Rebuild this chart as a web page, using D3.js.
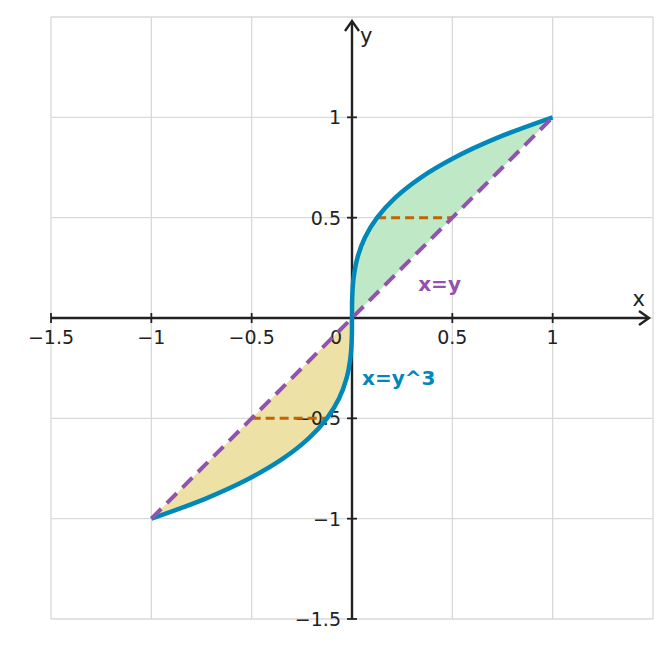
<!DOCTYPE html>
<html><head><meta charset="utf-8">
<script src="https://cdn.jsdelivr.net/npm/d3@7"></script>
<style>body{margin:0;background:#fff}text{font-family:"DejaVu Sans",sans-serif}</style>
</head><body><svg id="c" width="671" height="648"></svg>
<script>
// curve x = y^3, values listed per sample
const curveY = [-1,-0.9,-0.8,-0.7,-0.6,-0.5,-0.4,-0.3,-0.2,-0.1,0,0.1,0.2,0.3,0.4,0.5,0.6,0.7,0.8,0.9,1];
const curveX = [-1,-0.729,-0.512,-0.343,-0.216,-0.125,-0.064,-0.027,-0.008,-0.001,0,0.001,0.008,0.027,0.064,0.125,0.216,0.343,0.512,0.729,1];
const lineX = [-1,1];
const lineY = [-1,1];
const cutY = [0.5,-0.5];
const cutFrom = [0.125,-0.5];
const cutTo = [0.5,-0.125];
const ticks = [-1.5,-1,-0.5,0.5,1];
const gridTicks = [-1.5,-1,-0.5,0,0.5,1,1.5];

const svg = d3.select("#c");
const x = d3.scaleLinear().domain([-1.5,1.5]).range([51,653]);
const y = d3.scaleLinear().domain([-1.5,1.5]).range([619,17]);
const fmt = v => String(v).replace("-","\u2212");

// grid
svg.selectAll(".gx").data(gridTicks).enter().append("line")
  .attr("x1",d=>x(d)).attr("x2",d=>x(d)).attr("y1",y(1.5)).attr("y2",y(-1.5))
  .attr("stroke","#d9d9d9").attr("stroke-width",1.3);
svg.selectAll(".gy").data(gridTicks).enter().append("line")
  .attr("y1",d=>y(d)).attr("y2",d=>y(d)).attr("x1",x(-1.5)).attr("x2",x(1.5))
  .attr("stroke","#d9d9d9").attr("stroke-width",1.3);

const pts = curveY.map((v,i)=>[curveX[i],v]);
const pos = pts.filter(p=>p[1]>=0), neg = pts.filter(p=>p[1]<=0);
const smooth = d3.line().x(d=>x(d[0])).y(d=>y(d[1])).curve(d3.curveCatmullRom.alpha(0.5));
const straight = d3.line().x(d=>x(d[0])).y(d=>y(d[1]));
svg.append("path").attr("d",smooth(pos)+`L${x(0)},${y(0)}Z`).attr("fill","#bfe8c6");
svg.append("path").attr("d",smooth(neg)+`L${x(lineX[0])},${y(lineY[0])}Z`).attr("fill","#eee1a6");

// axes
svg.append("line").attr("x1",x(-1.5)).attr("x2",x(1.5)-6).attr("y1",y(0)).attr("y2",y(0)).attr("stroke","#222").attr("stroke-width",2.4);
svg.append("line").attr("y1",y(-1.5)).attr("y2",y(1.5)+6).attr("x1",x(0)).attr("x2",x(0)).attr("stroke","#222").attr("stroke-width",2.4);
svg.append("path").attr("d",`M${x(1.5)-14},${y(0)-7}L${x(1.5)-4},${y(0)}L${x(1.5)-14},${y(0)+7}`).attr("fill","none").attr("stroke","#222").attr("stroke-width",2.4);
svg.append("path").attr("d",`M${x(0)-7},${y(1.5)+14}L${x(0)},${y(1.5)+4}L${x(0)+7},${y(1.5)+14}`).attr("fill","none").attr("stroke","#222").attr("stroke-width",2.4);

svg.selectAll(".tx").data(ticks).enter().append("line")
  .attr("x1",d=>x(d)).attr("x2",d=>x(d)).attr("y1",y(0)-5).attr("y2",y(0)+5).attr("stroke","#222").attr("stroke-width",1.8);
svg.selectAll(".ty").data(ticks).enter().append("line")
  .attr("y1",d=>y(d)).attr("y2",d=>y(d)).attr("x1",x(0)-5).attr("x2",x(0)+5).attr("stroke","#222").attr("stroke-width",1.8);
svg.selectAll(".lx").data(ticks).enter().append("text")
  .attr("x",d=>x(d)).attr("y",y(0)+26).attr("text-anchor","middle").attr("font-size",19).attr("fill","#222").text(fmt);
svg.selectAll(".ly").data(ticks).enter().append("text")
  .attr("x",x(0)-11).attr("y",d=>y(d)+7).attr("text-anchor","end").attr("font-size",19).attr("fill","#222").text(fmt);
svg.append("text").attr("x",x(0)-10).attr("y",y(0)+26).attr("text-anchor","end").attr("font-size",19).attr("fill","#222").text("0");
svg.append("text").attr("x",x(1.5)-8).attr("y",y(0)-12).attr("text-anchor","end").attr("font-size",21).attr("fill","#222").text("x");
svg.append("text").attr("x",x(0)+8).attr("y",y(1.5)+26).attr("font-size",21).attr("fill","#222").text("y");

// cut segments
svg.selectAll(".cut").data(cutY).enter().append("line")
  .attr("x1",(d,i)=>x(cutFrom[i])).attr("x2",(d,i)=>x(cutTo[i])).attr("y1",d=>y(d)).attr("y2",d=>y(d))
  .attr("stroke","#c06500").attr("stroke-width",3).attr("stroke-dasharray","9,5");

svg.append("path").attr("d",smooth(pts)).attr("fill","none").attr("stroke","#0088b8").attr("stroke-width",4.5)
  .attr("stroke-linejoin","round");
svg.append("path").attr("d",straight(lineX.map((v,i)=>[v,lineY[i]]))).attr("fill","none")
  .attr("stroke","#9452b0").attr("stroke-width",4).attr("stroke-dasharray","14,8");

svg.append("text").attr("x",x(0.33)).attr("y",y(0.17)+7).attr("font-size",20).attr("font-weight","bold").attr("fill","#9452b0").text("x=y");
svg.append("text").attr("x",x(0.05)).attr("y",y(-0.3)+7).attr("font-size",20).attr("font-weight","bold").attr("fill","#0088b8").text("x=y^3");
</script></body></html>
